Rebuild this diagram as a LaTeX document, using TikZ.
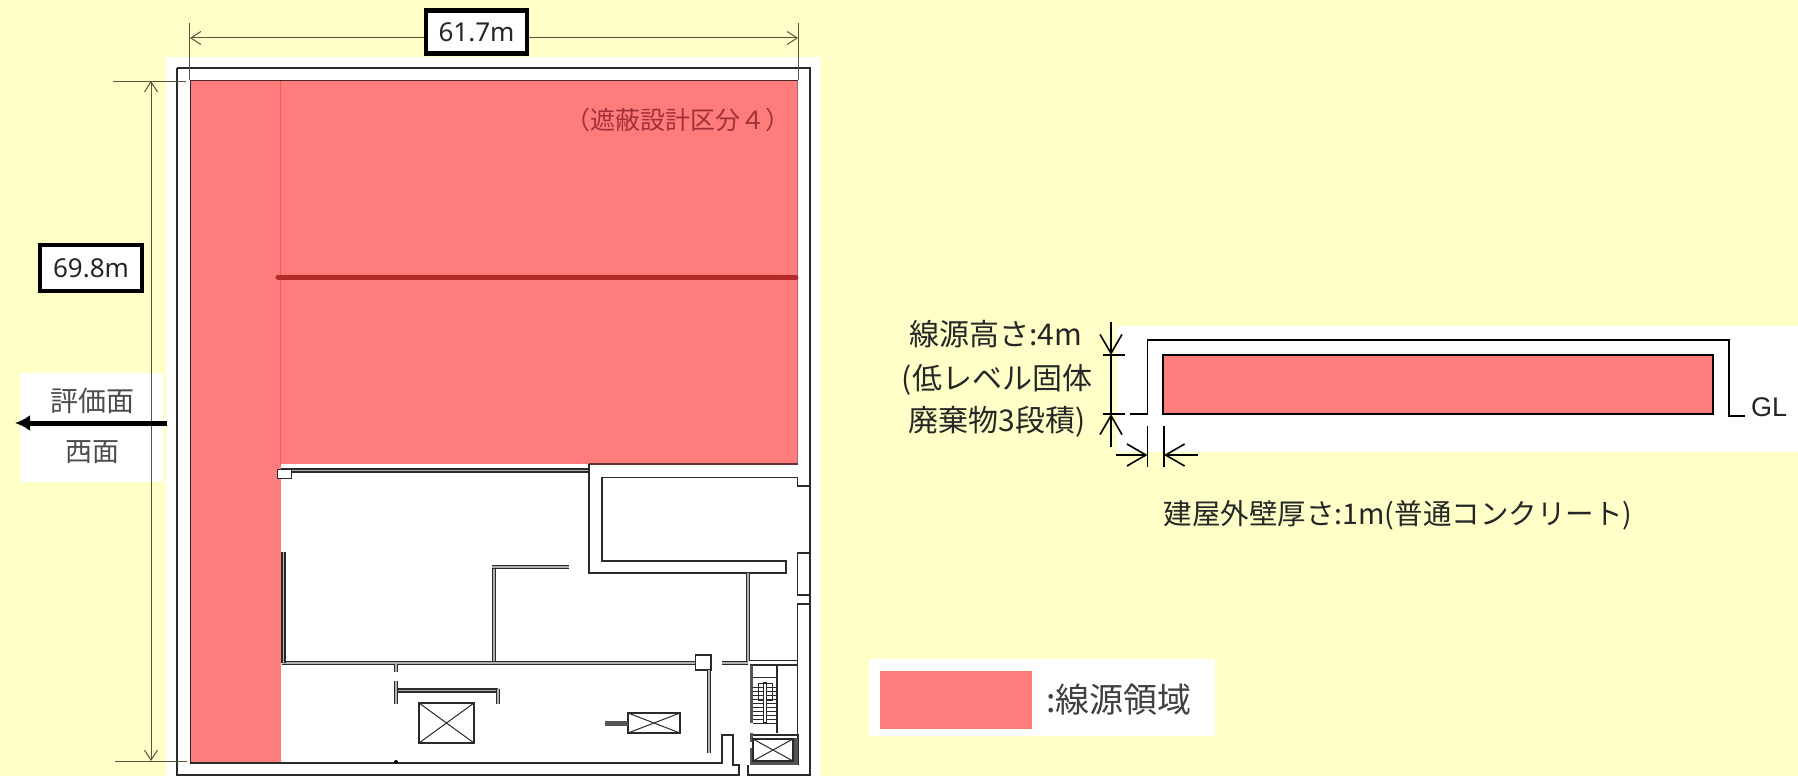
\documentclass[tikz,border=0pt]{standalone}
\usepackage{fontspec}
\setmainfont{Noto Sans CJK JP}
\newfontfamily\carl{Noto Sans}
\newfontfamily\arial{Liberation Sans}
\usetikzlibrary{arrows.meta}
\definecolor{bgy}{HTML}{FFFFC8}
\definecolor{srcp}{HTML}{FF7C7C}
\definecolor{dimc}{HTML}{55553A}
\definecolor{wallk}{HTML}{2A2A2A}
\tikzset{
 wall/.style={draw=wallk,line width=1.6pt},
 thinw/.style={draw=wallk,line width=1pt},
 dwall/.style={draw=wallk,line width=1.6pt,double=gray!60,double distance=1.6pt,line cap=butt},
 solid4/.style={draw=wallk!80,line width=3.5pt},
 dimline/.style={draw=dimc,line width=1pt},
 dimtip/.style={dimline,-{Straight Barb[length=10pt,width=13pt,line width=1pt]}},
 blk/.style={draw=black,line width=1.8pt},
 blktip/.style={blk,-{Straight Barb[length=19pt,width=22pt,line width=1.6pt]}},
 valbox/.style={draw=black,line width=4.5pt,fill=white,inner sep=0pt,font=\carl\fontsize{26}{30}\selectfont,text=black!85},
 lab/.style={inner sep=0pt,text=black!85},
}
\begin{document}
\begin{tikzpicture}[x=1pt,y=-1pt]
\useasboundingbox (0,0) rectangle (1798,776);
\fill[bgy] (0,0) rectangle (1798,776);
% white panels
\fill[white] (166,57) rectangle (820,776);
\fill[white] (20,373) rectangle (163,482);
\fill[white] (1117,326) rectangle (1798,452);
\fill[white] (869,659) rectangle (1215,736);
% source area
\fill[srcp] (191,81) rectangle (280.5,763);
\fill[srcp] (280,81) rectangle (797.5,464);
\draw[draw=red!30!srcp,line width=.8pt] (280.5,81) -- (280.5,466);
\draw[draw=black!70!srcp,line width=1.2pt] (190,80.5) -- (797.5,80.5);
\draw[draw=black!25!srcp,line width=1pt] (797.5,81) -- (797.5,464);
\draw[draw=black!60!srcp,line width=1.6pt] (589,464) -- (797.5,464);
\draw[draw={rgb,255:red,178;green,42;blue,42},line width=5pt,line cap=round] (278,277) -- (796,277);
% outer building
\draw[wall] (177,68) -- (810,68) -- (810,776);
\draw[wall] (177,68) -- (177,776);
\draw[wall] (177,775.2) -- (739,775.2) (748,775.2) -- (810,775.2);
% inner wall
\draw[wall] (190.5,81) -- (190.5,763) -- (722,763) -- (722,735) -- (733,735) -- (733,765) -- (739,765) -- (739,776);
\draw[wall] (748,776) -- (748,765);
\fill[black] (396,762) circle (2);
% north-east block
\draw[dwall] (280.5,470.5) -- (589,470.5);
\draw[thinw,fill=white] (277,469) rectangle (291,478);
\draw[wall] (589,464) -- (589,573) -- (786,573) -- (786,561) -- (602,561) -- (602,477.5) -- (797.5,477.5) -- (797.5,486) -- (810,486);
% east niches
\draw[wall] (810,553) -- (797.5,553) -- (797.5,595) -- (810,595);
\draw[wall] (810,604) -- (797.5,604) -- (797.5,765);
% interior double walls
\draw[dwall] (282,663) -- (695.5,663);
\draw[dwall] (283.5,552) -- (283.5,663);
\draw[dwall] (494,567) -- (494,661);
\draw[dwall] (492,567) -- (569,567);
\draw[dwall] (748,573) -- (748,661);
\draw[wall] (750,660.5) -- (797.5,660.5);
\draw[dwall] (721.5,663) -- (748,663);
\draw[wall] (750,665) -- (797.5,665);
% column and long wall
\draw[wall,fill=white] (695.5,655) rectangle (711,670);
\draw[dwall] (709,670) -- (709,753);
% stub and T wall
\draw[dwall] (396,664) -- (396,672);
\draw[dwall] (396,681) -- (396,704);
\draw[dwall] (398,690.5) -- (498,690.5);
\draw[dwall] (498,688.5) -- (498,704);
% equipment boxes
\draw[wall] (419,703) rectangle (474,743);
\draw[thinw] (419,703) -- (474,743) (419,743) -- (474,703);
\draw[wall] (628,713) rectangle (680,733);
\draw[thinw] (628,713) -- (680,733) (628,733) -- (680,713);
\draw[solid4,line width=5pt] (605,723.5) -- (628,723.5);
% stairs
\draw[solid4] (751.5,665) -- (751.5,723);
\draw[wall] (753,665) -- (777,665) -- (777,733);
\draw[thinw] (753,677) -- (777,677);
\draw[thinw] (758,683) rectangle (772,700);
\foreach \yy in {687,691,695,699,703,707,711,715,719,723}{\draw[draw=wallk,line width=1pt] (753,\yy) -- (777,\yy);}
\draw[draw=wallk,line width=1.2pt,fill=white] (763.5,683) rectangle (766.5,723);
% lift
\draw[wall,line width=2pt] (750,735) -- (798,735) -- (798,765);
\draw[solid4] (751.5,733) -- (751.5,742);
\draw[solid4] (751.5,748) -- (751.5,763) -- (796,763) -- (796,738);
\draw[wall] (753,739) rectangle (793,761);
\draw[thinw] (753,739) -- (793,761) (753,761) -- (793,739);
% dimensions top
\coordinate (dl) at (189.5,23);
\coordinate (dl2) at (189.5,80);
\coordinate (dr) at (798,23);
\coordinate (dr2) at (798,80);
\coordinate (da) at (190,38);
\coordinate (db) at (798,38);
\draw[dimline] (dl) -- (dl2);
\draw[dimline] (dr) -- (dr2);
\node[valbox,minimum width=101pt,minimum height=43pt] (w) at (476.5,32) {61.7m};
\draw[dimtip] (w.west |- da) -- (da);
\draw[dimtip] (w.east |- db) -- (db);
% dimensions left
\node[valbox,minimum width=102pt,minimum height=46pt] (h) at (91,268) {69.8m};
\coordinate (vm) at (151,421);
\coordinate (vt) at (151,81);
\coordinate (vb) at (151,761);
\coordinate (el1) at (113,81);
\coordinate (el2) at (186,81);
\coordinate (el3) at (115,761);
\coordinate (el4) at (187,761);
\draw[dimline] (el1) -- (el2);
\draw[dimline] (el3) -- (el4);
\draw[dimtip] (vm) -- (vt);
\draw[dimtip] (vm) -- (vb);
% evaluation face
\node[lab,font=\fontsize{28}{30}\selectfont,text=black!70] (e1) at (92,401) {評価面};
\node[lab,font=\fontsize{27}{30}\selectfont,text=black!70] (e2) at (92,452) {西面};
\coordinate (ea) at (167,423);
\coordinate (eb) at (15,423);
\draw[draw=black,line width=5pt,-{Latex[length=15pt,width=16pt]}] (ea) -- (eb);
\node[lab,font=\fontsize{25}{28}\selectfont,text={rgb,255:red,160;green,50;blue,55}] (zone) at (678,120) {（遮蔽設計区分４）};
% section
\fill[srcp] (1163,355) rectangle (1713,414);
\draw[blk,line width=2.4pt] (1163,414) -- (1163,355) -- (1713,355) -- (1713,414) -- cycle;
\draw[blk] (1147.5,415) -- (1147.5,340) -- (1729,340) -- (1729,416) -- (1745,416);
\draw[blk] (1102.5,355) -- (1125,355);
\draw[blk] (1102.5,414) -- (1125,414) (1130,414) -- (1147,414);
\coordinate (s1) at (1111,322);
\coordinate (s2) at (1111,355);
\coordinate (s3) at (1111,447);
\coordinate (s4) at (1111,414);
\draw[blktip] (s1) -- (s2);
\draw[blktip] (s3) -- (s4);
\draw[blk] (s2) -- (s4);
\draw[blk] (1147.5,426) -- (1147.5,467);
\draw[blk] (1164,426) -- (1164,467);
\coordinate (t1) at (1116,455);
\coordinate (t2) at (1147.5,455);
\coordinate (t3) at (1198,455);
\coordinate (t4) at (1164,455);
\draw[blktip] (t1) -- (t2);
\draw[blktip] (t3) -- (t4);
\node[lab,font=\fontsize{30}{32}\selectfont] (l1) at (996,334) {線源高さ:4m};
\node[lab,font=\fontsize{30}{32}\selectfont] (l2) at (997,380) {(低レベル固体};
\node[lab,font=\fontsize{30}{32}\selectfont] (l3) at (997,422) {廃棄物3段積)};
\node[lab,font=\arial\fontsize{27}{30}\selectfont] (gl) at (1769,407) {GL};
\node[lab,font=\fontsize{28.5}{30}\selectfont] (wt) at (1398,515) {建屋外壁厚さ:1m(普通コンクリート)};
% legend
\fill[srcp] (880,671) rectangle (1032,729);
\node[lab,font=\fontsize{34}{36}\selectfont,text=black!75] (lg) at (1119,700) {:線源領域};
\end{tikzpicture}
\end{document}
